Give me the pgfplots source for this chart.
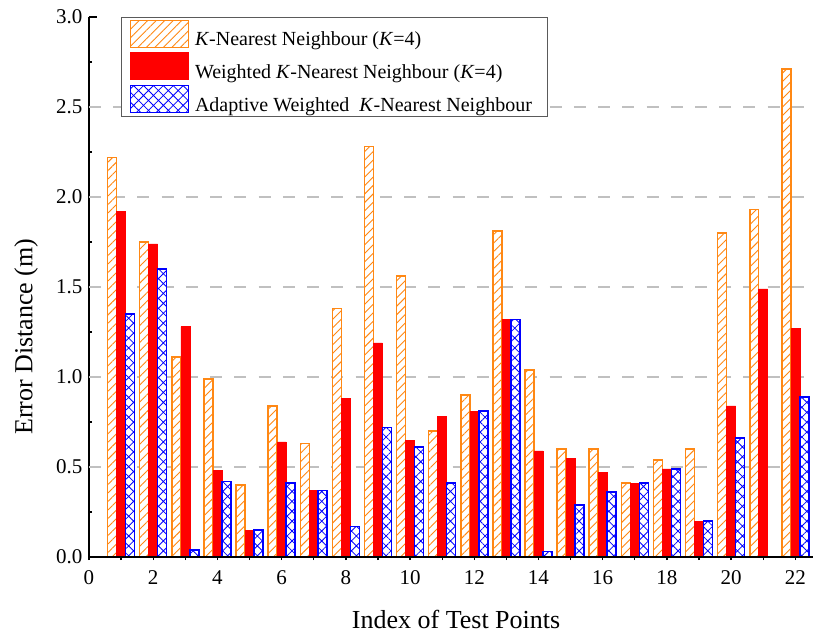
\documentclass[border=0pt]{standalone}
\usepackage{fontspec}
\setmainfont{Liberation Serif}
\usepackage{pgfplots}
\pgfplotsset{compat=1.18}
\usetikzlibrary{patterns.meta}
\definecolor{orng}{RGB}{255,136,20}
\definecolor{gridgray}{RGB}{192,192,192}
\definecolor{legframe}{RGB}{90,90,90}
\begin{document}
\begin{tikzpicture}
\useasboundingbox (-89pt,-78pt) rectangle (725pt,557pt);
\begin{axis}[
  at={(0pt,0pt)}, anchor=south west,
  scale only axis, width=724pt, height=540pt,
  xmin=0, xmax=22.55, ymin=0, ymax=3,
  ybar, bar width=0.28,
  axis x line*=bottom, axis y line*=left,
  axis line style={line width=1.3pt, -, black},
  xtick={0,2,...,22}, minor xtick={0,1,...,22},
  ytick={0,0.5,...,3}, minor ytick={0.25,0.75,...,2.75},
  /pgf/number format/fixed, /pgf/number format/fixed zerofill, /pgf/number format/precision=1,
  /pgf/number format/assume math mode=true,
  xticklabel={\pgfmathprintnumber[precision=0,fixed zerofill=false]{\tick}},
  tick align=inside,
  major tick length=8pt, minor tick length=3pt,
  tick style={line width=1.3pt, black},
  major x tick style={draw=none},
  minor x tick style={yshift=-3pt},
  tick label style={font=\fontsize{21}{24}\selectfont},
  xticklabel style={yshift=-10pt},
  yticklabel style={xshift=-3pt},
  extra y ticks={0.5,1,1.5,2,2.5},
  extra y tick labels={},
  extra y tick style={grid=major, major tick length=0pt},
  major grid style={gridgray, line width=2.5pt, dash pattern=on 12pt off 12.24pt},
  xlabel={Index of Test Points},
  ylabel={Error Distance (m)},
  xlabel style={font=\fontsize{26}{30}\selectfont, at={(axis description cs:0.507,-0.1315)}, anchor=base},
  ylabel style={font=\fontsize{26}{30}\selectfont, at={(axis description cs:-0.087,0.408)}, anchor=center},
  legend cell align=left,
  legend image code/.code={\draw[#1] (0pt,-7.5pt) rectangle (58pt,19.5pt);},
  legend style={at={(axis description cs:0.0442,1)}, anchor=north west,
    draw=legframe, line width=1pt, font=\fontsize{20}{22}\selectfont,
    inner xsep=8pt, inner ysep=2pt, row sep=3pt, column sep=4pt},
]
\addplot[bar shift=-0.28, draw=orng, line width=1.5pt, fill=white,
  postaction={pattern={Lines[angle=45,distance=6pt,line width=0.9pt]}, pattern color=orng}]
  coordinates {(1,2.22) (2,1.75) (3,1.11) (4,0.99) (5,0.40) (6,0.84) (7,0.63) (8,1.38) (9,2.28) (10,1.56) (11,0.70)
  (12,0.90) (13,1.81) (14,1.04) (15,0.60) (16,0.60) (17,0.41) (18,0.54) (19,0.60) (20,1.80) (21,1.93) (22,2.71)};
\addlegendentry{\textit{K}-Nearest Neighbour (\textit{K}=4)}
\addplot[bar shift=0, draw=red, line width=0.5pt, fill=red]
  coordinates {(1,1.92) (2,1.74) (3,1.28) (4,0.48) (5,0.15) (6,0.64) (7,0.37) (8,0.88) (9,1.19) (10,0.65) (11,0.78)
  (12,0.81) (13,1.32) (14,0.59) (15,0.55) (16,0.47) (17,0.41) (18,0.49) (19,0.20) (20,0.84) (21,1.49) (22,1.27)};
\addlegendentry{Weighted \textit{K}-Nearest Neighbour (\textit{K}=4)}
\addplot[bar shift=0.28, draw=blue, line width=1.5pt, fill=white,
  postaction={pattern={Hatch[angle=45,distance=7pt,line width=0.8pt]}, pattern color=blue}]
  coordinates {(1,1.35) (2,1.60) (3,0.04) (4,0.42) (5,0.15) (6,0.41) (7,0.37) (8,0.17) (9,0.72) (10,0.61) (11,0.41)
  (12,0.81) (13,1.32) (14,0.03) (15,0.29) (16,0.36) (17,0.41) (18,0.49) (19,0.20) (20,0.66) (22,0.89)};
\addlegendentry{Adaptive Weighted\ \ \textit{K}-Nearest Neighbour\hspace*{6pt}}
\draw[line width=1.3pt, black] (rel axis cs:0,0) -- (rel axis cs:1,0);
\end{axis}
\end{tikzpicture}
\end{document}
